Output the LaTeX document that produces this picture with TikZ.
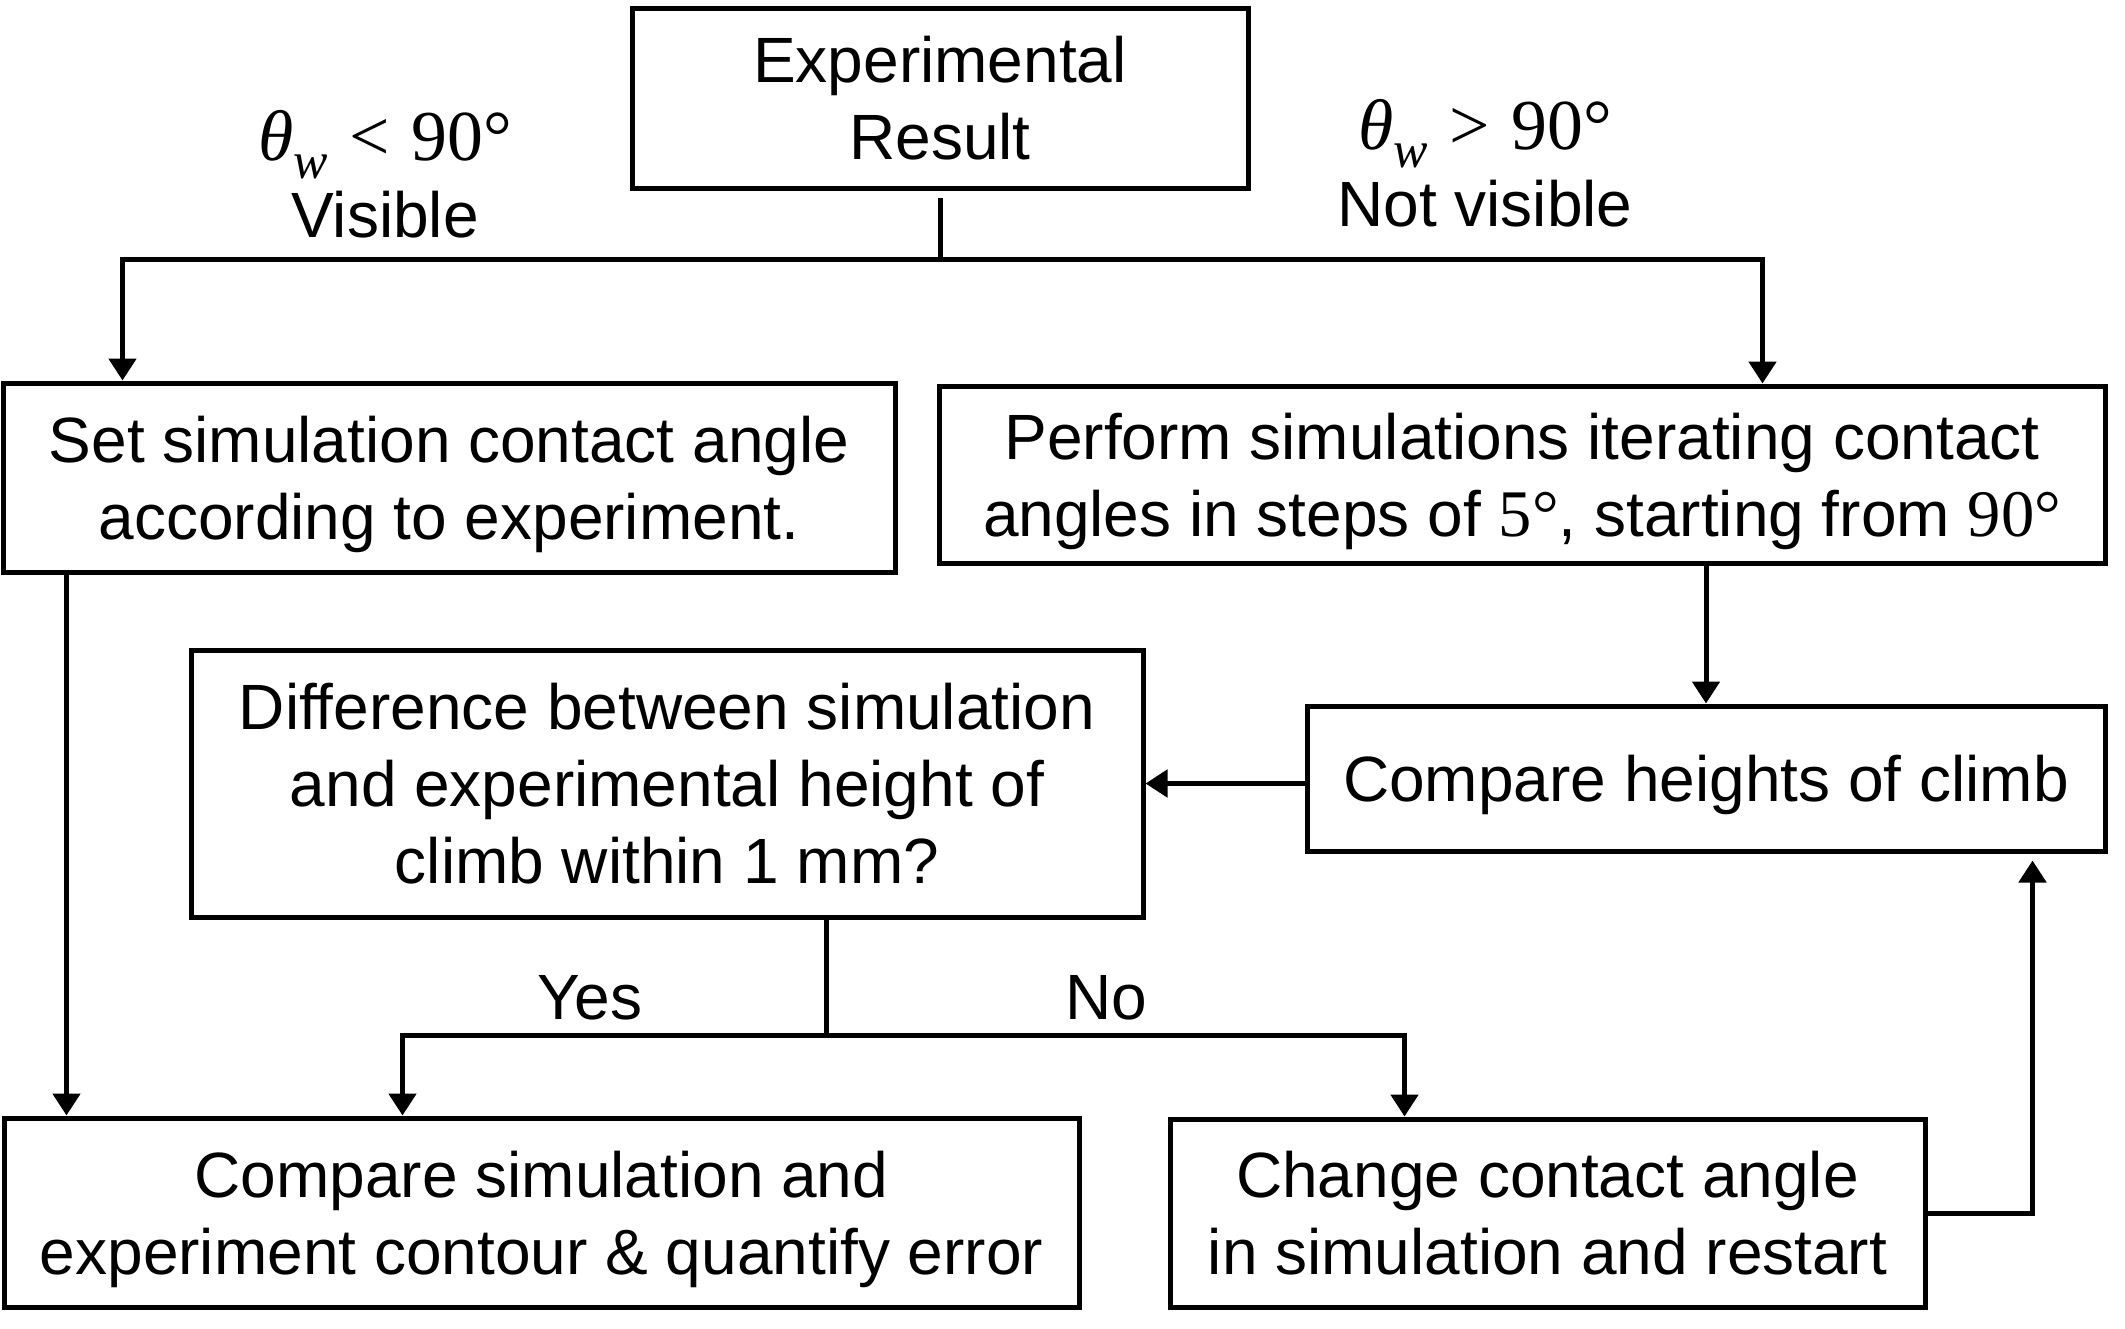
\RequirePackage{fix-cm}
\documentclass[tikz,border=0pt]{standalone}
\usepackage{fontspec}
\setmainfont{Liberation Sans}
\newfontfamily\cambr[Scale=1.12]{Liberation Serif}
\newfontfamily\cambrb[Scale=1.04]{Liberation Serif}
\newcommand{\thw}{{\cambr\itshape θ}\raisebox{-0.28em}{\fontsize{23pt}{23pt}\selectfont\cambr\itshape w}}
\newcommand{\degnum}[1]{{\cambrb #1°}}
\usetikzlibrary{arrows.meta,calc}
\begin{document}
\begin{tikzpicture}[x=0.5pt,y=-0.5pt,
  every node/.style={font=\fontsize{32pt}{38.5pt}\selectfont, inner sep=0pt},
  box/.style={draw, line width=2.5pt, align=center, text depth=0pt},
  conn/.style={line width=2.5pt},
  arr/.style={conn, -{Triangle[length=11pt,width=13.5pt]}},
  lbl/.style={align=center, text depth=0pt}]
\useasboundingbox (0,0) rectangle (2125,1328);
% boxes
\node[box, minimum width=308pt, minimum height=90pt] (exp) at (940,98) {Experimental\\Result};
\node[box, minimum width=446pt, minimum height=94.5pt] (set) at (449,477.5) {Set simulation contact angle\\according to experiment.};
\node[box, minimum width=583pt, minimum height=88.5pt] (perf) at (1522,474.5) {Perform simulations iterating contact\\angles in steps of \degnum{5}, starting from \degnum{90}};
\node[box, minimum width=476pt, minimum height=133.5pt] (diff) at (667,783.5) {Difference between simulation\\and experimental height of\\climb within 1 mm?};
\node[box, minimum width=399pt, minimum height=72.5pt] (cmph) at (1706,778.5) {Compare heights of climb};
\node[box, minimum width=537.5pt, minimum height=94.5pt] (cmps) at (541.5,1212.5) {Compare simulation and\\experiment contour \& quantify error};
\node[box, minimum width=377.5pt, minimum height=94pt] (chg) at (1547.5,1213) {Change contact angle\\in simulation and restart};
% labels
\node[lbl] (lv) at (385,174) {\thw{\cambr\hspace{0.3em}<\hspace{0.3em}90°}\\Visible};
\node[lbl] (lnv) at (1485,163) {\thw{\cambr\hspace{0.3em}>\hspace{0.3em}90°}\\Not visible};
\node[anchor=base] (lyes) at (590,1019) {Yes};
\node[anchor=base] (lno) at (1106,1019) {No};
% connectors
\coordinate (j1) at (940,259);
\draw[conn] ($(exp.south)+(0,7)$) -- (j1);
\draw[arr] (j1) -| ($(set.north west)+(122,0)$);
\draw[arr] (j1) -| ($(perf.north west)+(826,0)$);
\coordinate (a1) at ($(set.south west)+(66,0)$);
\draw[arr] (a1) -- (a1 |- cmps.north);
\draw[arr] (perf.south -| cmph.north) -- (cmph.north);
\draw[arr] (cmph.west |- diff.east) -- (diff.east);
\coordinate (j2) at (826,1035);
\draw[conn] (j2 |- diff.south) -- (j2);
\draw[arr] (j2) -| ($(cmps.north west)+(401,0)$);
\draw[arr] (j2) -| ($(chg.north west)+(237,0)$);
\draw[arr] (chg.east) -| ($(cmph.south east)+(-75,7)$);
\end{tikzpicture}
\end{document}
